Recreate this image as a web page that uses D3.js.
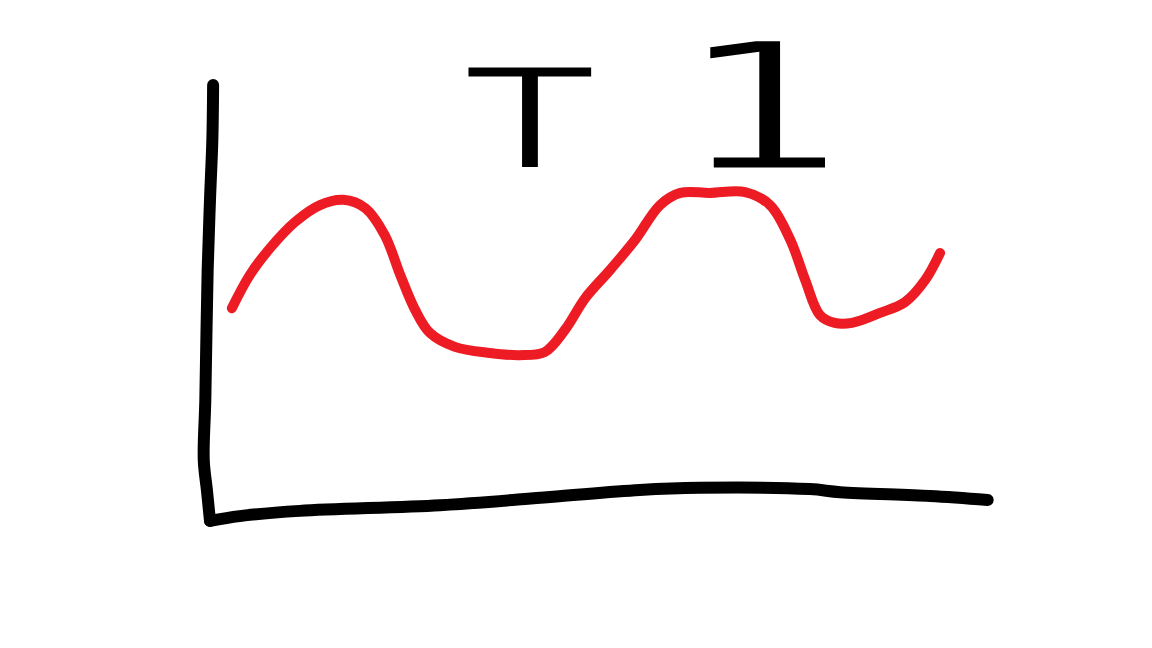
<!DOCTYPE html>
<html>
<head>
	<style>
		body {
		  margin: 0;
		  background: white;
		}
	</style>
	<script src="https://d3js.org/d3.v7.min.js"></script>
</head>
<body>
	<svg id="chart" width="1152" height="648"></svg>
</body>

<script>
// hand drawn chart: wobbly axes, red wave, title "T 1"
// all values in chart units 0..100 on both axes

// red line
var waveX = [2.8, 5.1, 7.7, 10.9, 14.1, 17.1, 19.9, 22.4, 24.4, 26.3, 28.2, 31.4, 35.9, 39.7, 42.9, 45.5,
             48.1, 51.3, 54.5, 57.7, 60.3, 64.1, 68.6, 71.8, 74.4, 76.3, 78.2, 80.1, 82.3, 85.9, 89.1, 91.7, 93.6];
var waveY = [48.7, 56.3, 62.5, 68.5, 72.4, 73.6, 71.7, 65.5, 56.3, 48.3, 43.0, 39.8, 38.4, 37.9, 38.6, 43.7,
             51.0, 57.5, 64.4, 72.4, 75.2, 75.2, 75.4, 72.4, 64.4, 55.2, 47.1, 45.3, 45.3, 47.6, 50.1, 55.2, 61.4];

// y axis stroke, top to bottom
var yAxisX = [0.4, 0.3, 0.0, -0.3, -0.6, -0.8, -0.4, 0.0];
var yAxisY = [100, 87.4, 73.6, 57.5, 27.6, 13.8, 6.9, -0.2];

// x axis stroke, left to right
var xAxisX = [0.0, 3.8, 11.5, 29.5, 43.6, 55.1, 62.8, 76.9, 80.8, 92.3, 99.7];
var xAxisY = [-0.2, 0.9, 2.1, 3.4, 5.3, 6.9, 7.4, 7.1, 6.4, 5.5, 4.6];

var titleParts = ["T", "1"];

var svg = d3.select("svg#chart");

let xScale = d3.scaleLinear()
	.domain([0, 100])
	.range([210, 990]);
let yScale = d3.scaleLinear()
	.domain([0, 100])
	.range([520, 85]);

function zip(xs, ys){
	return xs.map(function(x, i){ return [x, ys[i]]; });
}

let smoothGen = d3.line()
	.x(d => xScale(d[0]))
	.y(d => yScale(d[1]))
	.curve(d3.curveCatmullRom.alpha(0.5));

// axes
svg.append("path")
	.datum(zip(yAxisX, yAxisY))
	.attr("d", smoothGen)
	.attr("fill", "none")
	.attr("stroke", "black")
	.attr("stroke-width", 12)
	.attr("stroke-linecap", "round")
	.attr("stroke-linejoin", "round");

svg.append("path")
	.datum(zip(xAxisX, xAxisY))
	.attr("d", smoothGen)
	.attr("fill", "none")
	.attr("stroke", "black")
	.attr("stroke-width", 12)
	.attr("stroke-linecap", "round")
	.attr("stroke-linejoin", "round");

// the red wave
svg.append("path")
	.datum(zip(waveX, waveY))
	.attr("d", smoothGen)
	.attr("fill", "none")
	.attr("stroke", "#ed1c24")
	.attr("stroke-width", 10)
	.attr("stroke-linecap", "round")
	.attr("stroke-linejoin", "round");

// title, two big hand lettered characters
svg.append("text")
	.attr("transform", "translate(" + xScale(41) + "," + 166 + ") scale(1.6,1.02)")
	.attr("text-anchor", "middle")
	.style("font-family", "Lato")
	.style("font-weight", 300)
	.style("font-size", "134px")
	.attr("fill", "black")
	.attr("stroke", "black")
	.attr("stroke-width", 3)
	.text(titleParts[0]);

// mono "1" has the wide foot; a white edge stroke thins it down to pen width
svg.append("text")
	.attr("transform", "translate(" + xScale(70.5) + "," + 170 + ") scale(1.65,1)")
	.attr("text-anchor", "middle")
	.style("font-family", "DejaVu Sans Mono")
	.style("font-size", "180px")
	.attr("fill", "black")
	.attr("stroke", "white")
	.attr("stroke-width", 5)
	.text(titleParts[1]);
</script>
</html>
